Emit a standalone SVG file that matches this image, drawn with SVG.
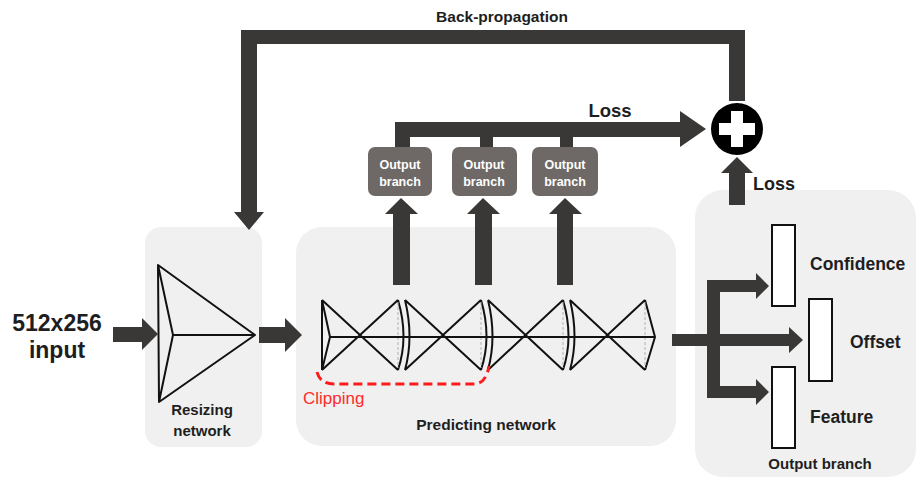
<svg xmlns="http://www.w3.org/2000/svg" width="918" height="479" viewBox="0 0 918 479">
  <style>
    .panel { fill: #f0f0f0; }
    .arrow { fill: #3a3836; }
    .lbl { font-family: "Liberation Sans", Arial, sans-serif; font-weight: bold; fill: #1e1e1e; }
    .sub { fill: #6e6866; }
    .subtxt { font-family: "Liberation Sans", Arial, sans-serif; font-weight: bold; font-size: 12.5px; fill: #ffffff; text-anchor: middle; }
    .net { fill: none; stroke: #111; stroke-width: 2; stroke-linejoin: round; }
    .dash { fill: none; stroke: #b0b0b0; stroke-width: 1; stroke-dasharray: 3 2; }
    .bar { fill: #ffffff; stroke: #111; stroke-width: 2; }
  </style>

  <!-- input label -->
  <g id="input">
    <text class="lbl" x="57" y="331" font-size="23" text-anchor="middle">512x256</text>
    <text class="lbl" x="57" y="358" font-size="23" text-anchor="middle">input</text>
  </g>

  <!-- resizing network -->
  <g id="resizing-network">
    <rect class="panel" x="145" y="227" width="117" height="220" rx="16"/>
    <path class="net" d="M158,265 L255,335 L159,402 Z M158,265 L173,335 L159,402 M173,335 L255,335"/>
    <text class="lbl" x="202" y="415" font-size="15" text-anchor="middle">Resizing</text>
    <text class="lbl" x="202" y="436" font-size="15" text-anchor="middle">network</text>
  </g>

  <!-- predicting network -->
  <g id="predicting-network">
    <rect class="panel" x="296" y="227" width="380" height="219" rx="26"/>
    <!-- unit 1 -->
    <path class="net" d="M322,300 L322,370 M322,300 L330,337 L322,370 M322,300 L398,370 M322,370 L398,300 M398,300 Q409,337 398,370"/>
    <line class="dash" x1="398" y1="302" x2="398" y2="368"/>
    <!-- unit 2 -->
    <path class="net" d="M405,300 Q414,337 405,370 M405,300 L481,370 M405,370 L481,300 M481,300 Q492,337 481,370"/>
    <line class="dash" x1="481" y1="302" x2="481" y2="368"/>
    <!-- unit 3 -->
    <path class="net" d="M488,300 Q497,337 488,370 M488,300 L563,370 M488,370 L563,300 M563,300 Q574,337 563,370"/>
    <line class="dash" x1="563" y1="302" x2="563" y2="368"/>
    <!-- unit 4 -->
    <path class="net" d="M570,300 Q579,337 570,370 M570,300 L645,370 M570,370 L645,300 M645,300 L655,337 L645,370"/>
    <line class="dash" x1="645" y1="302" x2="645" y2="368"/>
    <!-- spine -->
    <line class="net" x1="330" y1="337" x2="655" y2="337"/>
    <!-- clipping span -->
    <path d="M317,372 Q320,384 334,384 L474,384 Q486,384 489,366" fill="none" stroke="#ff1a1a" stroke-width="3" stroke-dasharray="9 5"/>
    <text x="303" y="404" font-family="Liberation Sans, Arial, sans-serif" font-size="17" fill="#ff2a2a">Clipping</text>
    <text class="lbl" x="486" y="430" font-size="15.5" text-anchor="middle">Predicting network</text>
  </g>

  <!-- output branch panel -->
  <g id="output-branch">
    <rect class="panel" x="695" y="190" width="221" height="287" rx="28"/>
    <rect class="bar" x="772" y="225" width="23" height="81"/>
    <rect class="bar" x="809" y="299" width="23" height="82"/>
    <rect class="bar" x="772" y="367" width="23" height="81"/>
    <text class="lbl" x="810" y="270" font-size="17.5">Confidence</text>
    <text class="lbl" x="850" y="348" font-size="17.5">Offset</text>
    <text class="lbl" x="810" y="423" font-size="17.5">Feature</text>
    <text class="lbl" x="820" y="469" font-size="15" text-anchor="middle">Output branch</text>
  </g>

  <!-- intermediate output branches -->
  <g id="output-branch-1">
    <rect class="sub" x="368" y="147" width="64" height="49" rx="7"/>
    <text class="subtxt" x="400" y="169">Output</text>
    <text class="subtxt" x="400" y="186">branch</text>
  </g>
  <g id="output-branch-2">
    <rect class="sub" x="452" y="147" width="65" height="49" rx="7"/>
    <text class="subtxt" x="484" y="169">Output</text>
    <text class="subtxt" x="484" y="186">branch</text>
  </g>
  <g id="output-branch-3">
    <rect class="sub" x="532" y="147" width="66" height="49" rx="7"/>
    <text class="subtxt" x="565" y="169">Output</text>
    <text class="subtxt" x="565" y="186">branch</text>
  </g>

  <!-- loss sum node -->
  <g id="sum">
    <circle cx="737" cy="129" r="26" fill="#000"/>
    <path d="M731,111 H743 V123 H755 V135 H743 V147 H731 V135 H719 V123 H731 Z" fill="#fff"/>
  </g>

  <g id="connectors">
    <!-- input -> resizing -->
    <polygon class="arrow" points="113,327 142,327 142,318 158,334 142,350 142,342 113,342"/>
    <!-- resizing -> predicting -->
    <polygon class="arrow" points="259,327 285,327 285,318 302,335 285,352 285,343 259,343"/>
    <!-- predicting -> output branches -->
    <polygon class="arrow" points="393,285 393,214 385,214 401,198 418,214 410,214 410,285"/>
    <polygon class="arrow" points="475,285 475,214 467,214 483,198 500,214 492,214 492,285"/>
    <polygon class="arrow" points="557,285 557,214 549,214 565,198 582,214 573,214 573,285"/>
    <!-- loss collection -->
    <path class="arrow" d="M395,147 V122 H680 V111 L706,129 L680,147 V137 H573 V147 H560 V137 H493 V147 H480 V137 H410 V147 Z"/>
    <text class="lbl" x="610" y="117" font-size="18.5" text-anchor="middle">Loss</text>
    <!-- back-propagation -->
    <path class="arrow" d="M745,101 V30 H241 V212 H234 L249,230 L264,212 H257 V44 H729 V101 Z"/>
    <text class="lbl" x="502" y="22" font-size="15.5" text-anchor="middle">Back-propagation</text>
    <!-- output branch loss -> sum -->
    <polygon class="arrow" points="729,205 729,173 721,173 737,157 753,173 745,173 745,205"/>
    <text class="lbl" x="753" y="190" font-size="18">Loss</text>
    <!-- predicting -> output heads -->
    <path class="arrow" d="M672,334 H707 V280 H756 V273 L769,286 L756,299 V292 H720 V334 H789 V327 L803,340 L789,353 V346 H720 V386 H756 V379 L769,392 L756,405 V398 H707 V346 H672 Z"/>
  </g>
</svg>
